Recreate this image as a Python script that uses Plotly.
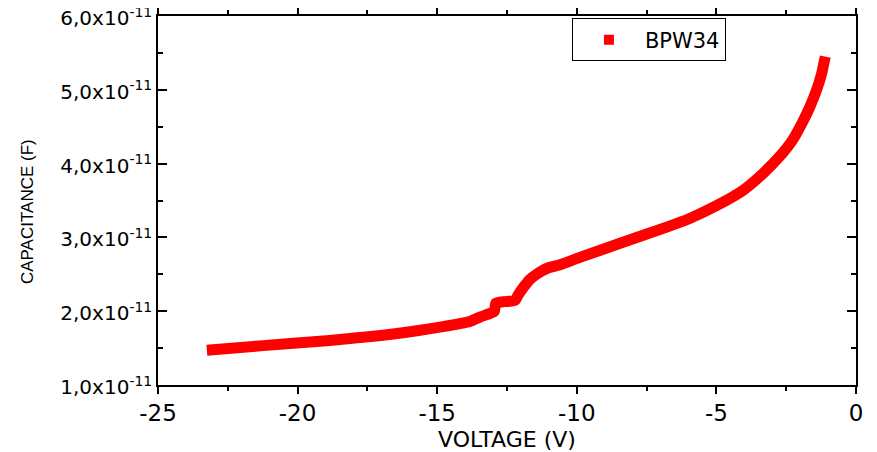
import plotly.graph_objects as go

# Data (voltage in V, capacitance in units of 1e-11 F)
voltage = [-23.25, -21.35, -18.96, -16.58, -14.8, -13.83, -13.47, -13.1, -12.95,
           -12.9, -12.6, -12.4, -12.2, -12.1, -11.9, -11.68, -11.44, -11.07,
           -10.6, -9.89, -8.45, -6.78, -6.0, -5.05, -4.04, -3.32, -2.75,
           -2.27, -1.93, -1.65, -1.41, -1.23, -1.14, -1.10]
cap_e11 = [1.47, 1.53, 1.60, 1.69, 1.79, 1.86, 1.92, 1.97, 2.00,
           2.11, 2.13, 2.135, 2.15, 2.22, 2.33, 2.43, 2.50, 2.58,
           2.63, 2.73, 2.92, 3.14, 3.25, 3.42, 3.64, 3.87, 4.09,
           4.32, 4.55, 4.77, 5.00, 5.22, 5.38, 5.45]
capacitance = [c * 1e-11 for c in cap_e11]

x_ticks = [-25, -20, -15, -10, -5, 0]
x_ticktext = ["-25", "-20", "-15", "-10", "-5", "0"]
y_ticks = [1e-11, 2e-11, 3e-11, 4e-11, 5e-11, 6e-11]
y_ticktext = ["1,0x10<sup>-11</sup>", "2,0x10<sup>-11</sup>", "3,0x10<sup>-11</sup>",
              "4,0x10<sup>-11</sup>", "5,0x10<sup>-11</sup>", "6,0x10<sup>-11</sup>"]
y_minor = [1.5e-11, 2.5e-11, 3.5e-11, 4.5e-11, 5.5e-11]
series_name = "BPW34"
x_title = "VOLTAGE (V)"
y_title = "CAPACITANCE (F)"

RED = "#FF0000"
fig = go.Figure()
fig.add_trace(go.Scatter(x=voltage, y=capacitance, mode="lines",
                         line=dict(color=RED, width=11, shape="spline", smoothing=0.5),
                         showlegend=False))
# legend entry only (square symbol, as in the reference legend)
fig.add_trace(go.Scatter(x=[None], y=[None], mode="markers", name=series_name,
                         marker=dict(symbol="square", size=10, color=RED)))

font_h = "DejaVu Sans"
fig.update_layout(
    width=869, height=444,
    margin=dict(l=150, r=21, t=8, b=67),
    plot_bgcolor="white", paper_bgcolor="white",
    font=dict(family=font_h, color="black"),
    legend=dict(x=0.593, y=0.935, xanchor="left", yanchor="middle",
                bordercolor="black", borderwidth=1, bgcolor="white",
                font=dict(family=font_h, size=21), itemwidth=62),
    xaxis=dict(range=[-25, 0], tickvals=x_ticks, ticktext=x_ticktext,
               ticks="outside", ticklen=7, automargin=False,
               tickwidth=1.5, tickcolor="black", showline=True, linewidth=1.5,
               linecolor="black", mirror="allticks", showgrid=False, zeroline=False,
               tickfont=dict(family=font_h, size=23),
               minor=dict(dtick=2.5, tick0=0, ticks="outside", ticklen=4,
                          tickwidth=1.5, tickcolor="black", showgrid=False),
               title=dict(text=x_title, font=dict(family=font_h, size=22),
                          standoff=8)),
    yaxis=dict(range=[1e-11, 6e-11], tickvals=y_ticks, ticktext=y_ticktext,
               ticks="inside", ticklen=9, tickwidth=1.5, tickcolor="black",
               automargin=False, ticklabeloverflow="allow", ticklabelshift=2,
               showline=True, linewidth=1.5, linecolor="black", mirror="allticks",
               showgrid=False, zeroline=False,
               tickfont=dict(family=font_h, size=20),
               minor=dict(tickvals=y_minor, ticks="inside", ticklen=5,
                          tickwidth=1.5, tickcolor="black", showgrid=False)),
    annotations=[dict(text=y_title, textangle=-90, xref="paper", yref="paper",
                      x=-0.186, y=0.469, xanchor="center", yanchor="middle",
                      showarrow=False,
                      font=dict(family="Liberation Sans", size=17, color="black"))],
)

fig.write_html("out.html")
